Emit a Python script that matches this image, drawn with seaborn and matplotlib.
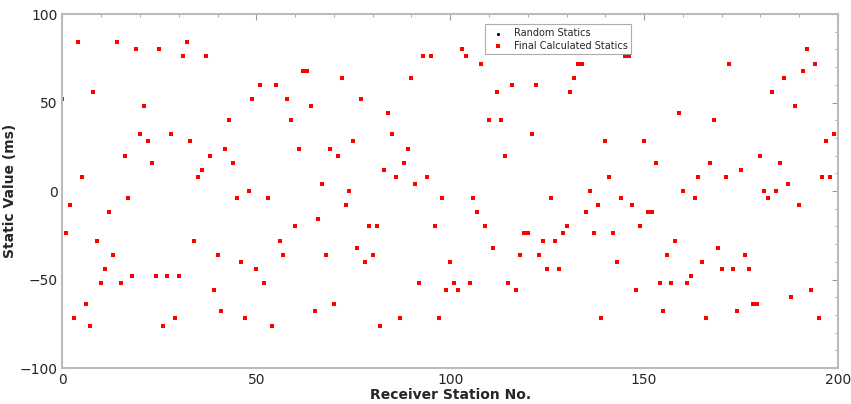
import matplotlib
matplotlib.use("Agg")
import matplotlib.pyplot as plt
import seaborn as sns
import pandas as pd
from matplotlib.ticker import MultipleLocator

# static values, one per receiver station (0..199)
stations = list(range(200))
statics = [
    52, -24, -8, -72, 84, 8, -64, -76, 56, -28,
    -52, -44, -12, -36, 84, -52, 20, -4, -48, 80,
    32, 48, 28, 16, -48, 80, -76, -48, 32, -72,
    -48, 76, 84, 28, -28, 8, 12, 76, 20, -56,
    -36, -68, 24, 40, 16, -4, -40, -72, 0, 52,
    -44, 60, -52, -4, -76, 60, -28, -36, 52, 40,
    -20, 24, 68, 68, 48, -68, -16, 4, -36, 24,
    -64, 20, 64, -8, 0, 28, -32, 52, -40, -20,
    -36, -20, -76, 12, 44, 32, 8, -72, 16, 24,
    64, 4, -52, 76, 8, 76, -20, -72, -4, -56,
    -40, -52, -56, 80, 76, -52, -4, -12, 72, -20,
    40, -32, 56, 40, 20, -52, 60, -56, -36, -24,
    -24, 32, 60, -36, -28, -44, -4, -28, -44, -24,
    -20, 56, 64, 72, 72, -12, 0, -24, -8, -72,
    28, 8, -24, -40, -4, 76, 76, -8, -56, -20,
    28, -12, -12, 16, -52, -68, -36, -52, -28, 44,
    0, -52, -48, -4, 8, -40, -72, 16, 40, -32,
    -44, 8, 72, -44, -68, 12, -36, -44, -64, -64,
    20, 0, -4, 56, 0, 16, 64, 4, -60, 48,
    -8, 68, 80, -56, 72, -72, 8, 28, 8, 32,
]
# the final calculated statics sit exactly on the random ones
final_statics = list(statics)

df = pd.DataFrame({"station": stations, "random": statics, "final": final_statics})

sns.set_style("white")
plt.rcParams["font.family"] = ["DejaVu Sans"]

fig = plt.figure(figsize=(8.51, 4.04), dpi=100)
ax = fig.add_axes([0.0734, 0.0891, 0.9113, 0.8762])

sns.scatterplot(x="station", y="random", data=df, ax=ax, color="black",
                marker="o", s=5, linewidth=0, label="Random Statics")
sns.scatterplot(x="station", y="final", data=df, ax=ax, color="#ff0000",
                marker="s", s=10, linewidth=0, label="Final Calculated Statics")

ax.set_xlim(0, 200)
ax.set_ylim(-100, 100)
ax.xaxis.set_major_locator(MultipleLocator(50))
ax.xaxis.set_minor_locator(MultipleLocator(10))
ax.yaxis.set_major_locator(MultipleLocator(50))
ax.yaxis.set_minor_locator(MultipleLocator(10))
ax.tick_params(which="both", direction="in", top=True, right=True,
               color="#999999", labelsize=10)
ax.tick_params(which="major", length=4)
ax.tick_params(which="minor", length=2)
for sp in ax.spines.values():
    sp.set_color("#bbbbbb")
    sp.set_linewidth(1.5)

ax.set_xlabel("Receiver Station No.", fontsize=10, fontweight="bold", labelpad=1)
ax.set_ylabel("Static Value (ms)", fontsize=10, fontweight="bold", labelpad=2)

leg = ax.legend(loc="upper left", bbox_to_anchor=(0.538, 0.985), fontsize=7,
                frameon=True, fancybox=False, handletextpad=0.6,
                borderpad=0.4, labelspacing=0.25, markerscale=1.0)
leg.get_frame().set_edgecolor("#999999")
leg.get_frame().set_linewidth(0.8)

fig.savefig("out.png", dpi=100)
